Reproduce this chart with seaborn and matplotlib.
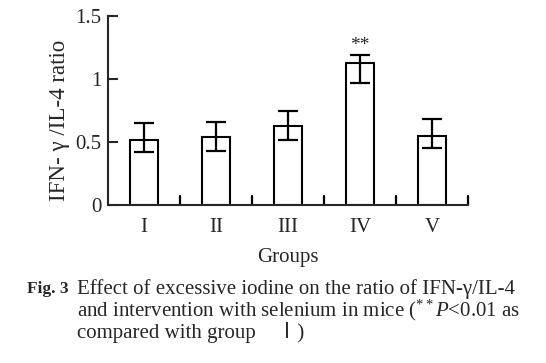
import numpy as np
import pandas as pd
import matplotlib
matplotlib.use("Agg")
import matplotlib.pyplot as plt
import seaborn as sns

# values
groups = ["I", "II", "III", "IV", "V"]
ratio = [0.52, 0.54, 0.63, 1.13, 0.55]
err_up = [0.13, 0.12, 0.12, 0.06, 0.13]
err_low = [0.10, 0.11, 0.11, 0.16, 0.10]
y_ticks = [0, 0.5, 1, 1.5]
y_tick_labels = ["0", "0.5", "1", "1.5"]

sns.set_style("ticks")
plt.rcParams["font.family"] = ["Liberation Serif", "Noto Sans CJK SC"]
plt.rcParams["mathtext.fontset"] = "custom"
plt.rcParams["mathtext.rm"] = "Liberation Serif"
plt.rcParams["mathtext.it"] = "Liberation Serif:italic"

df = pd.DataFrame({"group": groups, "ratio": ratio})

fig = plt.figure(figsize=(5.46, 3.63), dpi=100)
ax = fig.add_axes([0.198, 0.435, 0.659, 0.521])

sns.barplot(data=df, x="group", y="ratio", errorbar=None, width=0.39,
            color="white", edgecolor="black", linewidth=1.5, ax=ax)
ax.errorbar(np.arange(len(groups)), ratio, yerr=[err_low, err_up], fmt="none",
            ecolor="black", elinewidth=1.6, capsize=7, capthick=1.6)
ax.text(3, ratio[3] + err_up[3] + 0.01, "**", ha="center", va="bottom", fontsize=14)

ax.set_xlim(-0.5, 4.5)
ax.set_ylim(0, 1.5)
ax.set_yticks(y_ticks)
ax.set_yticklabels(y_tick_labels)
ax.set_xticks(np.arange(len(groups)))
ax.set_xticklabels(groups)
ax.tick_params(axis="x", length=0, labelsize=15, pad=9)
ax.tick_params(axis="y", direction="in", length=7, width=1.5, labelsize=15, pad=5)
# inward ticks between groups on the x axis
for b in np.arange(0.5, 5, 1):
    ax.plot([b, b], [0, 0.07], color="black", lw=1.6, clip_on=False)

for s in ["top", "right"]:
    ax.spines[s].set_visible(False)
for s in ["left", "bottom"]:
    ax.spines[s].set_linewidth(1.5)

ax.set_xlabel("Groups", fontsize=15, labelpad=8)
ax.set_ylabel("IFN- γ /IL-4 ratio", fontsize=16.5)
ax.yaxis.set_label_coords(-0.106, 0.45)

fig.text(0.05, 0.205, "Fig. 3", fontsize=12.5, fontweight="bold", va="center")
fig.text(0.141, 0.205, "Effect of excessive iodine on the ratio of IFN-γ/IL-4",
         fontsize=15, va="center")
fig.text(0.141, 0.145, r"and intervention with selenium in mice ($^{**}\mathit{P}$<0.01 as",
         fontsize=15, va="center")
fig.text(0.141, 0.085, "compared with group　Ⅰ)", fontsize=15, va="center")

fig.savefig("out.png", dpi=100)
